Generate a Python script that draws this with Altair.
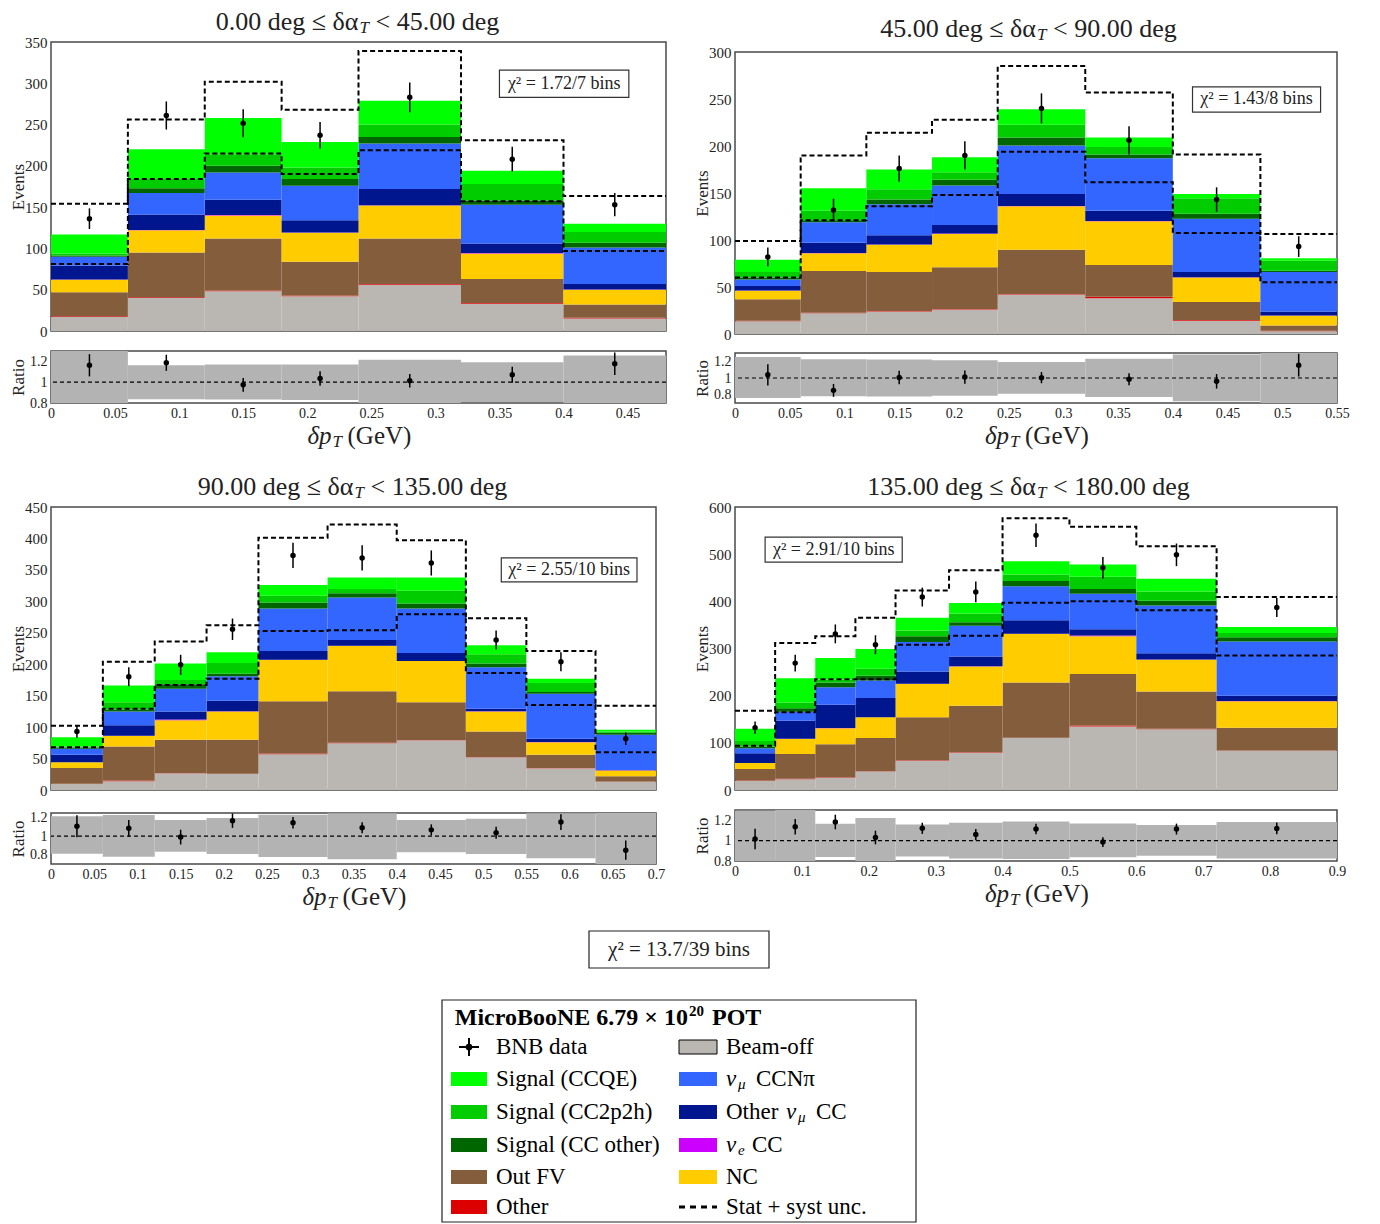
import altair as alt
import pandas as pd

FONT = "Liberation Serif"

COMPONENTS = ["Beam-off", "Other", "Out FV", "NC", "nu_e CC", "Other nu_mu CC",
              "nu_mu CCNpi", "Signal (CC other)", "Signal (CC2p2h)", "Signal (CCQE)"]
COMP_COLORS = ["#bab6b2", "#dd0000", "#845e3c", "#ffcc00", "#cc00ff", "#00168f",
               "#3366ff", "#006600", "#00cc00", "#00ff00"]

# ---------------- panel 1 : 0 - 45 deg ----------------
P1_EDGES = [0, 0.06, 0.12, 0.18, 0.24, 0.32, 0.40, 0.48]
P1_TOPS = {  # cumulative stack tops (events)
    "Beam-off":          [17, 40, 48, 42, 56, 33, 15],
    "Other":             [18, 41, 49, 43, 57, 34, 16],
    "Out FV":            [47, 95, 112, 84, 112, 63, 32],
    "NC":                [62, 122, 140, 119, 152, 94, 50],
    "nu_e CC":           [62.4, 122.4, 140.4, 119.4, 152.4, 94.4, 50.4],
    "Other nu_mu CC":    [79, 141, 159, 134, 172, 106, 57],
    "nu_mu CCNpi":       [90, 167, 192, 176, 227, 153, 101],
    "Signal (CC other)": [91.5, 173, 200, 184, 235, 158, 107],
    "Signal (CC2p2h)":   [94, 184, 214, 198, 250, 178, 120],
    "Signal (CCQE)":     [117, 220, 258, 229, 279, 194, 130],
}
P1_DATA = [136, 261, 251.5, 237, 283, 208, 153]
P1_ERR = [12.5, 17, 17, 16, 18, 15, 14]
P1_UP = [154, 256, 302, 268, 339, 231, 163.5]
P1_LO = [81, 184, 215, 190, 219, 157, 97]

# ---------------- panel 2 : 45 - 90 deg ----------------
P2_EDGES = [0, 0.06, 0.12, 0.18, 0.24, 0.32, 0.40, 0.48, 0.55]
P2_TOPS = {
    "Beam-off":          [13.5, 22, 24, 26, 42, 38, 14, 3],
    "Other":             [14, 22.5, 24.5, 26.5, 42.5, 39.5, 15, 3.5],
    "Out FV":            [37, 67, 66, 71, 89.5, 73.5, 34, 9],
    "NC":                [46, 86, 95, 106.5, 136, 120, 60, 19.5],
    "nu_e CC":           [46.3, 86.3, 95.3, 106.8, 136.3, 120.3, 60.3, 19.8],
    "Other nu_mu CC":    [51, 97, 105, 116, 149, 131, 66, 24],
    "nu_mu CCNpi":       [58, 119, 138, 158, 200.5, 187, 122.5, 66],
    "Signal (CC other)": [60, 121, 143, 164, 209, 191, 128, 67.4],
    "Signal (CC2p2h)":   [66, 131, 154, 172, 222.5, 199, 144.5, 78],
    "Signal (CCQE)":     [79, 155, 175, 188, 239, 209, 149, 80.6],
}
P2_DATA = [82, 132, 176, 190, 240, 206, 143, 93]
P2_ERR = [10, 12, 14, 15, 16, 15, 13, 11]
P2_UP = [99, 190, 214, 228, 285, 257, 191, 106.5]
P2_LO = [60, 121, 136, 148, 194, 161.5, 107.5, 55]

# ---------------- panel 3 : 90 - 135 deg ----------------
P3_EDGES = [0, 0.06, 0.12, 0.18, 0.24, 0.32, 0.40, 0.48, 0.55, 0.63, 0.70]
P3_TOPS = {
    "Beam-off":          [9.6, 14, 26.6, 25.6, 57, 74.5, 79, 52, 34.6, 13],
    "Other":             [10, 15, 27, 26, 58, 75, 79.5, 52.5, 35, 13.5],
    "Out FV":            [35, 69, 80, 80, 141, 157, 139.5, 93, 56, 22],
    "NC":                [44, 86, 111, 125, 206.6, 229, 205, 125, 76, 31],
    "nu_e CC":           [44.3, 86.3, 112, 125.3, 207, 229.3, 205.3, 125.3, 76.3, 31.3],
    "Other nu_mu CC":    [56, 103, 125, 142, 221, 238.5, 218, 129, 81.5, 31.8],
    "nu_mu CCNpi":       [65.5, 125, 161, 181, 288.6, 306, 288.6, 195, 153, 88],
    "Signal (CC other)": [67.5, 128, 168, 185, 298, 313, 296.6, 201, 156, 91],
    "Signal (CC2p2h)":   [69, 139.5, 175, 202, 309, 319.5, 317, 216, 170, 93],
    "Signal (CCQE)":     [84, 166, 201, 219, 326, 338, 338, 230, 177, 96],
}
P3_DATA = [93, 180, 199, 255.6, 373, 369, 361, 238.5, 204, 81.5]
P3_ERR = [10, 15, 16, 17, 20, 20, 20, 15, 15, 10]
P3_UP = [102, 204, 236, 262, 401, 422, 397, 273, 221, 134]
P3_LO = [68, 129, 167, 177, 253, 254, 279.5, 186, 135, 60]

# ---------------- panel 4 : 135 - 180 deg ----------------
P4_EDGES = [0, 0.06, 0.12, 0.18, 0.24, 0.32, 0.40, 0.50, 0.60, 0.72, 0.90]
P4_TOPS = {
    "Beam-off":          [19, 23, 26, 39, 62, 79, 110, 134.6, 129, 83],
    "Other":             [20, 24, 27, 40, 63, 80, 111, 137, 130, 84],
    "Out FV":            [44.6, 76.5, 97, 110, 154, 178.5, 228, 246, 209, 132],
    "NC":                [57, 108, 131, 154, 225, 262, 331, 326, 276, 188],
    "nu_e CC":           [57.5, 108.5, 131.5, 154.5, 225.5, 262.5, 331.5, 327.5, 276.5, 188.5],
    "Other nu_mu CC":    [78, 147, 180.6, 195, 251, 283, 360, 340.6, 290, 200],
    "nu_mu CCNpi":       [88.5, 166, 218, 232, 314, 348, 432, 416, 391, 315],
    "Signal (CC other)": [92, 173.5, 228, 242, 326, 355.5, 443, 426, 401.5, 324],
    "Signal (CC2p2h)":   [104, 185.5, 234, 257, 338, 374, 457, 452, 421, 333],
    "Signal (CCQE)":     [130, 237, 280, 299, 365, 396.6, 485, 478, 448, 345.6],
}
P4_DATA = [132, 269, 331, 308, 409, 420, 540, 471, 498.6, 387]
P4_ERR = [13, 18, 20, 20, 20, 22, 25, 23, 24, 20]
P4_UP = [168, 311.6, 326, 365, 423, 466, 576, 558, 517, 409]
P4_LO = [94, 165, 235, 235, 308, 327, 397, 400, 381, 285]

PANELS = [
    dict(edges=P1_EDGES, tops=P1_TOPS, data=P1_DATA, err=P1_ERR, up=P1_UP, lo=P1_LO,
         xmax=0.48, ymax=350, yticks=[0, 50, 100, 150, 200, 250, 300, 350],
         xticks=[0, 0.05, 0.1, 0.15, 0.2, 0.25, 0.3, 0.35, 0.4, 0.45],
         rdom=[0.8, 1.3], w=615, h=289, rh=52, gap=10,
         title=("0.00 deg ≤ δα", "< 45.00 deg"), chi="χ² = 1.72/7 bins",
         chibox=[0.35, 0.451, 283, 316]),
    dict(edges=P2_EDGES, tops=P2_TOPS, data=P2_DATA, err=P2_ERR, up=P2_UP, lo=P2_LO,
         xmax=0.55, ymax=300, yticks=[0, 50, 100, 150, 200, 250, 300],
         xticks=[0, 0.05, 0.1, 0.15, 0.2, 0.25, 0.3, 0.35, 0.4, 0.45, 0.5, 0.55],
         rdom=[0.7, 1.3], w=602, h=282, rh=50, gap=9,
         title=("45.00 deg ≤ δα", "< 90.00 deg"), chi="χ² = 1.43/8 bins",
         chibox=[0.418, 0.535, 236, 263]),
    dict(edges=P3_EDGES, tops=P3_TOPS, data=P3_DATA, err=P3_ERR, up=P3_UP, lo=P3_LO,
         xmax=0.70, ymax=450, yticks=[0, 50, 100, 150, 200, 250, 300, 350, 400, 450],
         xticks=[0, 0.05, 0.1, 0.15, 0.2, 0.25, 0.3, 0.35, 0.4, 0.45, 0.5, 0.55, 0.6, 0.65, 0.7],
         rdom=[0.7, 1.25], w=605, h=283, rh=51, gap=10,
         title=("90.00 deg ≤ δα", "< 135.00 deg"), chi="χ² = 2.55/10 bins",
         chibox=[0.521, 0.678, 331, 369]),
    dict(edges=P4_EDGES, tops=P4_TOPS, data=P4_DATA, err=P4_ERR, up=P4_UP, lo=P4_LO,
         xmax=0.90, ymax=600, yticks=[0, 100, 200, 300, 400, 500, 600],
         xticks=[0, 0.1, 0.2, 0.3, 0.4, 0.5, 0.6, 0.7, 0.8, 0.9],
         rdom=[0.8, 1.3], w=602, h=283, rh=51, gap=10,
         title=("135.00 deg ≤ δα", "< 180.00 deg"), chi="χ² = 2.91/10 bins",
         chibox=[0.045, 0.25, 483, 536]),
]

TOTAL_CHI = "χ² = 13.7/39 bins"

LEGEND_ROWS = [47, 79, 112, 145, 177, 207]

INK = "#222222"
ONE = pd.DataFrame({"k": [0]})
ROW_W = 1285
HIDDEN = alt.ViewBackground(strokeOpacity=0)
TITLE_Y = -20


def stack_frame(edges, tops):
    rows = []
    prev = [0] * (len(edges) - 1)
    for comp in COMPONENTS:
        cur = tops[comp]
        for i in range(len(cur)):
            rows.append(dict(comp=comp, x0=edges[i], x1=edges[i + 1], y0=prev[i], y1=cur[i]))
        prev = cur
    return pd.DataFrame(rows)


def text_layer(txt, x, y, size, align="left", style="normal", weight="normal", color=INK):
    return alt.Chart(ONE).mark_text(
        text=txt, align=align, baseline="middle", font=FONT, fontSize=size,
        fontStyle=style, fontWeight=weight, color=color
    ).encode(x=alt.value(x), y=alt.value(y))


def title_layers(P, y):
    cx = P["w"] / 2
    a, c = P["title"]
    return [
        text_layer(a, cx, y, 26, align="right"),
        text_layer("T", cx + 1, y + 6, 17, style="italic"),
        text_layer(c, cx + 17, y, 26),
    ]


def build_panel(P, with_title=True):
    edges = P["edges"]
    n = len(edges) - 1
    mc = P["tops"]["Signal (CCQE)"]
    centers = [(edges[i] + edges[i + 1]) / 2 for i in range(n)]

    xs = alt.Scale(domain=[0, P["xmax"]], nice=False, zero=False)
    ys = alt.Scale(domain=[0, P["ymax"]], nice=False)
    yax = alt.Axis(values=P["yticks"], title="Events", titleX=-24, titleFontSize=17,
                   titleFontWeight="normal", labelFontSize=15, ticks=False, domain=False,
                   grid=False, labelPadding=4)

    def X(f):
        return alt.X(f, type="quantitative", scale=xs, axis=None)

    def Y(f):
        return alt.Y(f, type="quantitative", scale=ys, axis=yax)

    stack = stack_frame(edges, P["tops"])
    bars = alt.Chart(stack).mark_rect().encode(
        x=X("x0"), x2="x1", y=Y("y0"), y2="y1",
        color=alt.Color("comp:N", scale=alt.Scale(domain=COMPONENTS, range=COMP_COLORS), legend=None),
    )
    step_up = pd.DataFrame({"x": edges, "y": P["up"] + [P["up"][-1]]})
    step_lo = pd.DataFrame({"x": edges, "y": P["lo"] + [P["lo"][-1]]})
    unc = [alt.Chart(d).mark_line(interpolate="step-after", strokeDash=[5, 3], color="black",
                                  strokeWidth=2).encode(x=X("x"), y=Y("y"))
           for d in (step_up, step_lo)]
    pts = pd.DataFrame({"x": centers, "y": P["data"],
                        "elo": [d - e for d, e in zip(P["data"], P["err"])],
                        "ehi": [d + e for d, e in zip(P["data"], P["err"])]})
    ebar = alt.Chart(pts).mark_rule(color="black", strokeWidth=1.5).encode(x=X("x"), y=Y("elo"), y2="ehi")
    dots = alt.Chart(pts).mark_circle(size=30, color="black", opacity=1).encode(x=X("x"), y=Y("y"))
    cb = P["chibox"]
    chi_df = pd.DataFrame({"x0": [cb[0]], "x1": [cb[1]], "y0": [cb[2]], "y1": [cb[3]],
                           "xm": [(cb[0] + cb[1]) / 2], "ym": [(cb[2] + cb[3]) / 2]})
    chi_rect = alt.Chart(chi_df).mark_rect(fill="white", stroke="#333333", strokeWidth=1.2).encode(
        x=X("x0"), x2="x1", y=Y("y0"), y2="y1")
    chi_txt = alt.Chart(chi_df).mark_text(text=P["chi"], font=FONT, fontSize=18, color=INK,
                                          baseline="middle").encode(x=X("xm"), y=Y("ym"))

    layers = [bars, *unc, ebar, dots, chi_rect, chi_txt]
    if with_title:
        layers += title_layers(P, TITLE_Y)
    main = alt.layer(*layers).properties(width=P["w"], height=P["h"])

    # ---------- ratio ----------
    rx = alt.Scale(domain=[0, P["xmax"]], nice=False, zero=False)
    ry = alt.Scale(domain=P["rdom"], nice=False, zero=False)
    xax = alt.Axis(values=P["xticks"], format="~g", title=None, labelFontSize=14, ticks=False,
                   domain=False, grid=False, labelPadding=3, labelFlush=False)
    ryax = alt.Axis(values=[0.8, 1, 1.2], format="~g", title="Ratio", titleX=-24, titleFontSize=17,
                    titleFontWeight="normal", labelFontSize=14, ticks=False, domain=False,
                    grid=False, labelPadding=4)

    def RX(f):
        return alt.X(f, type="quantitative", scale=rx, axis=xax)

    def RY(f):
        return alt.Y(f, type="quantitative", scale=ry, axis=ryax)

    band = pd.DataFrame({"x0": edges[:-1], "x1": edges[1:],
                         "b0": [l / m for l, m in zip(P["lo"], mc)],
                         "b1": [u / m for u, m in zip(P["up"], mc)]})
    band_l = alt.Chart(band).mark_rect(color="#b3b3b3", clip=True).encode(
        x=RX("x0"), x2="x1", y=RY("b0"), y2="b1")
    one_l = alt.Chart(pd.DataFrame({"y": [1.0]})).mark_rule(
        color="black", strokeDash=[4, 3], strokeWidth=1.2).encode(y=RY("y"))
    rpts = pd.DataFrame({"x": centers,
                         "r": [d / m for d, m in zip(P["data"], mc)],
                         "rlo": [(d - e) / m for d, e, m in zip(P["data"], P["err"], mc)],
                         "rhi": [(d + e) / m for d, e, m in zip(P["data"], P["err"], mc)]})
    rbar = alt.Chart(rpts).mark_rule(color="black", strokeWidth=1.5, clip=True).encode(
        x=RX("x"), y=RY("rlo"), y2="rhi")
    rdot = alt.Chart(rpts).mark_circle(size=30, color="black", opacity=1).encode(x=RX("x"), y=RY("r"))
    sp = P["w"] / 2 - 27
    axis_title = [
        text_layer("δp", sp, P["rh"] + 33, 25, align="right", style="italic"),
        text_layer("T", sp + 1, P["rh"] + 39, 17, style="italic"),
        text_layer("(GeV)", sp + 16, P["rh"] + 33, 25),
    ]
    ratio = alt.layer(band_l, one_l, rbar, rdot, *axis_title).properties(width=P["w"], height=P["rh"])
    return alt.vconcat(main, ratio, spacing=P["gap"])


p1 = build_panel(PANELS[0])
p2_body = build_panel(PANELS[1], with_title=False)
p3 = build_panel(PANELS[2])
p4 = build_panel(PANELS[3])

# panel 2 sits 10 px lower than panel 1: its title lives in a thin strip above it
p2_title = alt.layer(*title_layers(PANELS[1], -13)).properties(width=PANELS[1]["w"], height=1, view=HIDDEN)
p2 = alt.vconcat(p2_title, p2_body, spacing=1)

row1 = alt.hconcat(p1, p2, spacing=21)
row2 = alt.hconcat(p3, p4, spacing=26)

# ---------- total chi2 box ----------
CX = alt.Scale(domain=[0, ROW_W], nice=False, zero=False)
CY = alt.Scale(domain=[0, 37], nice=False, zero=False, reverse=True)
chi_df = pd.DataFrame([dict(x0=538, x1=718, y0=0, y1=37, xm=628, ym=19)])
chi_box = alt.Chart(chi_df).mark_rect(fill="white", stroke="#222222", strokeWidth=1.2).encode(
    x=alt.X("x0:Q", scale=CX, axis=None), x2="x1", y=alt.Y("y0:Q", scale=CY, axis=None), y2="y1")
chi_text = alt.Chart(chi_df).mark_text(text=TOTAL_CHI, font=FONT, fontSize=21, color=INK,
                                       baseline="middle").encode(
    x=alt.X("xm:Q", scale=CX, axis=None), y=alt.Y("ym:Q", scale=CY, axis=None))
chi_total = alt.layer(chi_box, chi_text).properties(width=ROW_W, height=37, view=HIDDEN)

# ---------- legend ----------
LX = alt.Scale(domain=[-391, ROW_W - 391], nice=False, zero=False)
LY = alt.Scale(domain=[0, 222], nice=False, zero=False, reverse=True)


def lx(f):
    return alt.X(f, type="quantitative", scale=LX, axis=None)


def ly(f):
    return alt.Y(f, type="quantitative", scale=LY, axis=None)


frame_df = pd.DataFrame([dict(x0=0, x1=474, y0=0, y1=222)])
leg_frame = alt.Chart(frame_df).mark_rect(fill="white", stroke="#222222", strokeWidth=1.2).encode(
    x=lx("x0"), x2="x1", y=ly("y0"), y2="y1")
SW_LEFT = [(1, "#00ff00"), (2, "#00cc00"), (3, "#006600"), (4, "#845e3c"), (5, "#dd0000")]
SW_RIGHT = [(0, "#bab6b2"), (1, "#3366ff"), (2, "#00168f"), (3, "#cc00ff"), (4, "#ffcc00")]
sw_rows = []
for r, col in SW_LEFT:
    sw_rows.append(dict(x0=9, x1=45, y0=LEGEND_ROWS[r] - 7, y1=LEGEND_ROWS[r] + 7, c=col))
for r, col in SW_RIGHT:
    sw_rows.append(dict(x0=237, x1=275, y0=LEGEND_ROWS[r] - 7, y1=LEGEND_ROWS[r] + 7, c=col))
sw_df = pd.DataFrame(sw_rows)
leg_sw = alt.Chart(sw_df).mark_rect().encode(
    x=lx("x0"), x2="x1", y=ly("y0"), y2="y1", color=alt.Color("c:N", scale=None))
bo_df = pd.DataFrame([dict(x0=237, x1=275, y0=LEGEND_ROWS[0] - 7, y1=LEGEND_ROWS[0] + 7)])
leg_bo = alt.Chart(bo_df).mark_rect(fill="none", stroke="black", strokeWidth=1).encode(
    x=lx("x0"), x2="x1", y=ly("y0"), y2="y1")
mk = pd.DataFrame([dict(x=27, y=LEGEND_ROWS[0], xa=17, xb=37, ya=LEGEND_ROWS[0] - 9, yb=LEGEND_ROWS[0] + 9)])
leg_h = alt.Chart(mk).mark_rule(color="black", strokeWidth=2).encode(x=lx("xa"), x2="xb", y=ly("y"))
leg_v = alt.Chart(mk).mark_rule(color="black", strokeWidth=2).encode(x=lx("x"), y=ly("ya"), y2="yb")
leg_pt = alt.Chart(mk).mark_circle(size=45, color="black", opacity=1).encode(x=lx("x"), y=ly("y"))
dash_df = pd.DataFrame([dict(x0=237, x1=275, y=LEGEND_ROWS[5])])
leg_dash = alt.Chart(dash_df).mark_rule(color="black", strokeWidth=3, strokeDash=[6, 5]).encode(
    x=lx("x0"), x2="x1", y=ly("y"))

LEG_TEXT = [
    # x, y, text, size, style, weight, align
    (246, 18, "MicroBooNE 6.79 × 10", 24, "normal", "bold", "right"),
    (247, 11, "20", 15, "normal", "bold", "left"),
    (270, 18, "POT", 24, "normal", "bold", "left"),
    (54, LEGEND_ROWS[0], "BNB data", 23, "normal", "normal", "left"),
    (54, LEGEND_ROWS[1], "Signal (CCQE)", 23, "normal", "normal", "left"),
    (54, LEGEND_ROWS[2], "Signal (CC2p2h)", 23, "normal", "normal", "left"),
    (54, LEGEND_ROWS[3], "Signal (CC other)", 23, "normal", "normal", "left"),
    (54, LEGEND_ROWS[4], "Out FV", 23, "normal", "normal", "left"),
    (54, LEGEND_ROWS[5], "Other", 23, "normal", "normal", "left"),
    (284, LEGEND_ROWS[0], "Beam-off", 23, "normal", "normal", "left"),
    (284, LEGEND_ROWS[1], "ν", 23, "italic", "normal", "left"),
    (296, LEGEND_ROWS[1] + 5, "μ", 15, "italic", "normal", "left"),
    (314, LEGEND_ROWS[1], "CCNπ", 23, "normal", "normal", "left"),
    (284, LEGEND_ROWS[2], "Other", 23, "normal", "normal", "left"),
    (344, LEGEND_ROWS[2], "ν", 23, "italic", "normal", "left"),
    (356, LEGEND_ROWS[2] + 5, "μ", 15, "italic", "normal", "left"),
    (374, LEGEND_ROWS[2], "CC", 23, "normal", "normal", "left"),
    (284, LEGEND_ROWS[3], "ν", 23, "italic", "normal", "left"),
    (296, LEGEND_ROWS[3] + 5, "e", 15, "italic", "normal", "left"),
    (310, LEGEND_ROWS[3], "CC", 23, "normal", "normal", "left"),
    (284, LEGEND_ROWS[4], "NC", 23, "normal", "normal", "left"),
    (284, LEGEND_ROWS[5], "Stat + syst unc.", 23, "normal", "normal", "left"),
]
leg_txt = []
for x, y, t, s, st, wt, al in LEG_TEXT:
    leg_txt.append(alt.Chart(pd.DataFrame({"x": [x], "y": [y]})).mark_text(
        text=t, align=al, baseline="middle", font=FONT, fontSize=s, fontStyle=st,
        fontWeight=wt, color="black").encode(x=lx("x"), y=ly("y")))

legend = alt.layer(leg_frame, leg_sw, leg_bo, leg_h, leg_v, leg_pt, leg_dash, *leg_txt).properties(
    width=ROW_W, height=222, view=HIDDEN)

rows = alt.vconcat(row1, row2, spacing=22)
bottom = alt.vconcat(chi_total, legend, spacing=30)

chart = alt.vconcat(rows, bottom, spacing=18).properties(
    padding=0
).configure_view(
    stroke="#4a4a4a", strokeWidth=1.5
).configure_axis(
    labelFont=FONT, titleFont=FONT, labelColor=INK, titleColor=INK
)

chart.save("out.html", embed_options={"renderer": "svg", "actions": False})
